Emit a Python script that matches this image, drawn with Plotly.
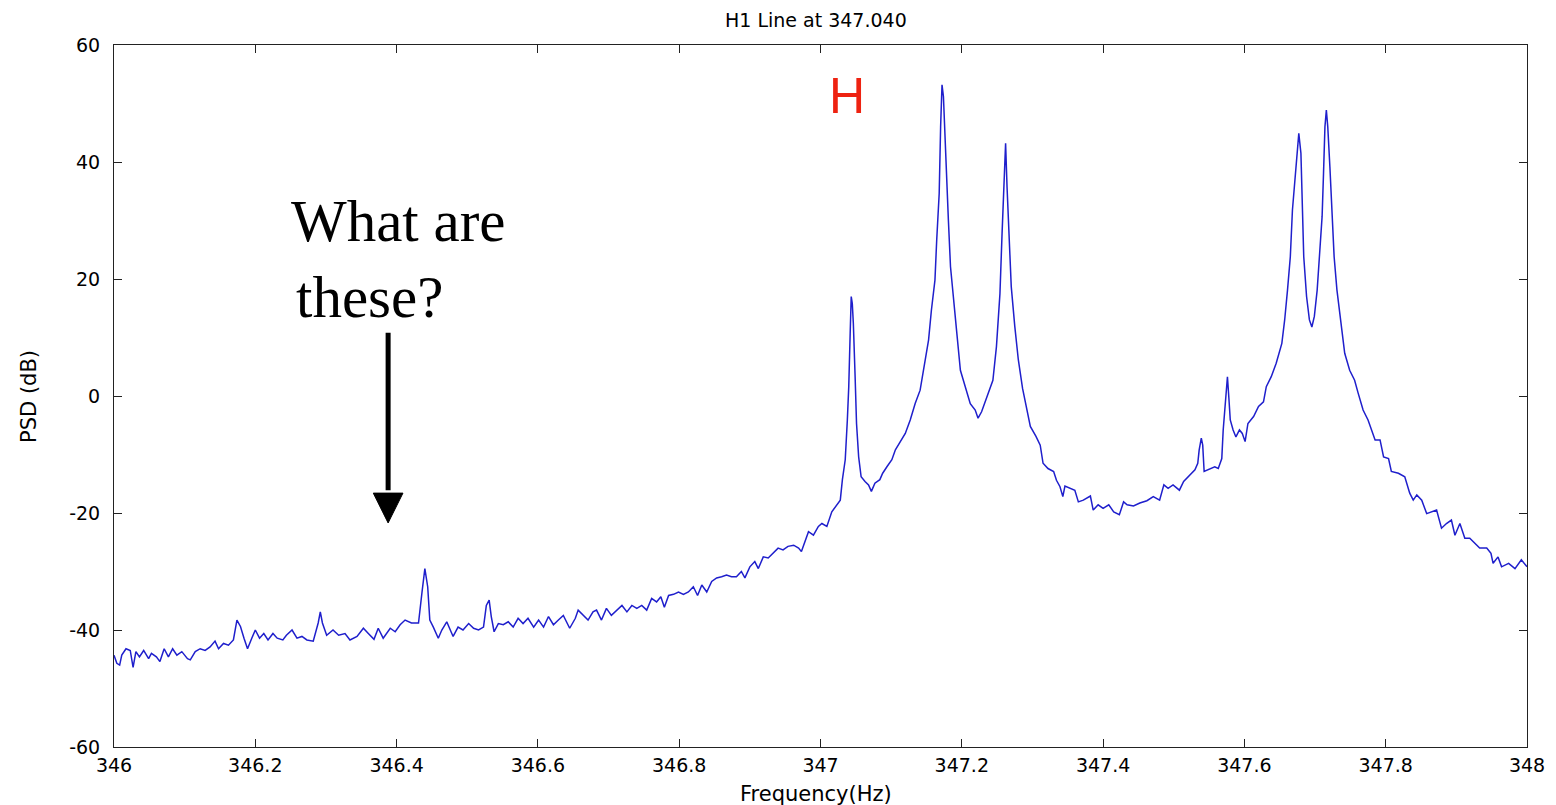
import plotly.graph_objects as go

# ---- data (frequency in Hz, PSD in dB) ----
FREQ_HZ = [
    346.000, 346.004, 346.008, 346.011, 346.017, 346.023, 346.027, 346.031, 346.036, 346.042,
    346.049, 346.053, 346.060, 346.065, 346.071, 346.077, 346.083, 346.089, 346.096, 346.104,
    346.108, 346.115, 346.122, 346.129, 346.136, 346.143, 346.148, 346.155, 346.162, 346.169,
    346.174, 346.179, 346.184, 346.189, 346.195, 346.200, 346.206, 346.212, 346.218, 346.225,
    346.231, 346.239, 346.244, 346.252, 346.259, 346.266, 346.273, 346.282, 346.289, 346.292,
    346.295, 346.301, 346.310, 346.318, 346.327, 346.334, 346.344, 346.353, 346.360, 346.368,
    346.374, 346.381, 346.391, 346.398, 346.405, 346.412, 346.421, 346.431, 346.436,
    346.440, 346.444, 346.447, 346.452, 346.459, 346.464, 346.471, 346.476, 346.480, 346.487,
    346.494, 346.502, 346.509, 346.516, 346.523, 346.527, 346.531, 346.534, 346.538, 346.544,
    346.551, 346.558, 346.565, 346.572, 346.579, 346.586, 346.594, 346.601, 346.608, 346.615,
    346.622, 346.629, 346.636, 346.645, 346.653, 346.657, 346.664, 346.671, 346.678, 346.683,
    346.690, 346.697, 346.704, 346.712, 346.719, 346.726, 346.733, 346.740, 346.747, 346.754,
    346.761, 346.768, 346.774, 346.779, 346.785, 346.792, 346.799, 346.806, 346.813, 346.820,
    346.826, 346.832, 346.839, 346.846, 346.853, 346.860, 346.867, 346.874, 346.881, 346.888,
    346.893, 346.900, 346.907, 346.912, 346.919, 346.926, 346.933, 346.940, 346.947, 346.954,
    346.962, 346.969, 346.973, 346.983, 346.990,
    346.997, 347.002, 347.009, 347.016, 347.023, 347.028, 347.031, 347.035, 347.038, 347.040,
    347.042, 347.0435, 347.045, 347.0465, 347.049, 347.051, 347.054, 347.0575, 347.063, 347.068,
    347.072, 347.077, 347.084, 347.088, 347.094, 347.101, 347.106, 347.113, 347.120, 347.127,
    347.134, 347.141, 347.147, 347.153, 347.157, 347.162,
    347.1645, 347.168, 347.170, 347.172, 347.174, 347.176, 347.178, 347.181, 347.184, 347.188,
    347.193, 347.198, 347.206, 347.212, 347.219, 347.223, 347.228, 347.234, 347.240, 347.244,
    347.249, 347.254, 347.257, 347.260, 347.262, 347.264, 347.267, 347.270, 347.275, 347.280,
    347.286, 347.292, 347.297, 347.305,
    347.311, 347.315, 347.322, 347.330, 347.334, 347.339, 347.343, 347.346, 347.353, 347.360,
    347.365, 347.372, 347.382, 347.386, 347.393, 347.400, 347.408, 347.415, 347.423, 347.429,
    347.434, 347.443, 347.452, 347.462, 347.471, 347.480, 347.486, 347.492, 347.499, 347.508,
    347.514, 347.523, 347.530, 347.534, 347.536, 347.539, 347.541, 347.543, 347.551, 347.558,
    347.563, 347.568, 347.570, 347.573,
    347.576, 347.578, 347.580, 347.584, 347.588, 347.593, 347.597, 347.601, 347.605, 347.613,
    347.620, 347.627, 347.631, 347.638, 347.645, 347.653, 347.657, 347.661, 347.665, 347.668,
    347.672, 347.675, 347.677, 347.680, 347.682, 347.684, 347.688, 347.692, 347.6955, 347.699,
    347.703, 347.706, 347.710, 347.712, 347.714, 347.716, 347.718, 347.721, 347.724, 347.727,
    347.731, 347.736, 347.742, 347.749, 347.756, 347.761, 347.768, 347.775, 347.782,
    347.785, 347.792, 347.797, 347.804, 347.808, 347.818, 347.827, 347.834, 347.839, 347.844,
    347.851, 347.858, 347.865, 347.872, 347.879, 347.886, 347.893, 347.898, 347.905, 347.912,
    347.919, 347.926, 347.933, 347.943, 347.949, 347.952, 347.959, 347.964, 347.974, 347.983,
    347.992, 348.000,
]

PSD_DB = [
    -44.3, -45.7, -46.0, -44.3, -43.2, -43.5, -46.4, -43.7, -44.6, -43.5,
    -44.9, -44.0, -44.6, -45.4, -43.2, -44.6, -43.2, -44.3, -43.7, -44.9,
    -45.1, -43.7, -43.2, -43.5, -42.9, -41.9, -43.2, -42.3, -42.6, -41.7,
    -38.3, -39.4, -41.4, -43.2, -41.4, -40.0, -41.4, -40.6, -41.7, -40.6,
    -41.4, -41.7, -40.9, -40.0, -41.4, -41.1, -41.7, -41.9, -38.8, -36.9,
    -38.8, -40.9, -40.0, -40.9, -40.6, -41.7, -41.1, -39.7, -40.6, -41.6,
    -39.7, -41.4, -39.7, -40.3, -39.1, -38.3, -38.8, -38.8, -33.5,
    -29.5, -32.6, -38.3, -39.5, -41.4, -40.0, -38.6, -40.0, -41.1, -39.5,
    -40.0, -38.9, -39.7, -40.0, -39.5, -35.8, -34.9, -37.7, -40.3, -38.9,
    -39.1, -38.6, -39.5, -38.0, -38.9, -38.0, -39.5, -38.3, -39.5, -37.7,
    -39.1, -38.3, -37.5, -39.7, -38.0, -36.6, -37.5, -38.3, -36.9, -36.6,
    -38.3, -36.3, -37.5, -36.6, -35.8, -36.9, -35.8, -36.3, -35.8, -36.6,
    -34.6, -35.2, -34.3, -36.1, -34.1, -33.9, -33.5, -33.9, -33.5, -32.6,
    -34.1, -32.3, -33.5, -31.7, -31.1, -30.9, -30.6, -30.9, -30.9, -30.0,
    -31.1, -29.2, -28.3, -29.5, -27.5, -27.7, -26.9, -26.0, -26.3, -25.7,
    -25.5, -26.0, -26.6, -23.2, -23.8,
    -22.3, -21.8, -22.3, -19.8, -18.6, -17.8, -14.3, -10.9, -4.1, 1.6,
    10.7, 17.0, 15.8, 12.4, 3.3, -4.7, -10.4, -13.8, -14.6, -15.2,
    -16.3, -14.9, -14.3, -13.2, -12.1, -10.9, -9.2, -7.8, -6.4, -4.1,
    -1.3, 1.0, 5.0, 9.6, 14.7, 19.8,
    26.7, 34.6, 46.0, 53.2, 51.2, 44.9, 36.9, 30.1, 22.1, 16.4,
    10.7, 4.4, 1.0, -1.3, -2.4, -3.8, -2.7, -0.7, 1.6, 2.7,
    8.4, 17.5, 27.8, 36.9, 43.2, 35.8, 27.8, 18.7, 11.9, 6.2,
    1.3, -2.4, -5.2, -6.9,
    -8.4, -11.5, -12.4, -12.9, -14.4, -15.5, -17.2, -15.4, -15.8, -16.1,
    -18.1, -17.8, -17.1, -19.5, -18.6, -19.2, -18.6, -19.8, -20.3, -18.1,
    -18.6, -18.8, -18.3, -17.9, -17.2, -17.8, -15.2, -15.8, -15.2, -16.1,
    -14.6, -13.5, -12.6, -11.5, -9.2, -7.2, -8.4, -12.9, -12.4, -12.1,
    -12.4, -10.7, -5.8, -0.7,
    3.3, -0.3, -4.1, -5.8, -7.0, -5.8, -6.4, -7.8, -4.7, -3.5,
    -1.8, -1.0, 1.6, 3.3, 5.6, 9.0, 13.0, 18.1, 23.8, 31.8,
    38.1, 43.2, 44.9, 41.5, 33.5, 23.8, 17.0, 13.0, 11.8, 13.6,
    18.1, 23.8, 30.7, 38.1, 46.0, 48.9, 46.0, 39.2, 30.7, 23.8,
    18.1, 13.0, 7.3, 4.4, 2.7, 0.5, -2.4, -4.1, -6.4,
    -7.5, -7.5, -10.4, -10.7, -12.9, -13.2, -13.8, -16.6, -17.8, -16.9,
    -17.8, -20.1, -19.8, -19.5, -22.6, -21.8, -21.2, -23.8, -21.8, -24.3,
    -24.3, -25.2, -26.0, -26.0, -26.9, -28.6, -27.5, -29.2, -28.6, -29.5,
    -28.0, -29.2,
]

X_TICKS = [346, 346.2, 346.4, 346.6, 346.8, 347, 347.2, 347.4, 347.6, 347.8, 348]
X_TICK_LABELS = ["346", "346.2", "346.4", "346.6", "346.8", "347",
                 "347.2", "347.4", "347.6", "347.8", "348"]
Y_TICKS = [-60, -40, -20, 0, 20, 40, 60]
Y_TICK_LABELS = ["-60", "-40", "-20", "0", "20", "40", "60"]

TITLE = "H1 Line at 347.040"
X_LABEL = "Frequency(Hz)"
Y_LABEL = "PSD (dB)"

# annotation positions (data units)
H_POS = (347.038, 51.2)
Q_LINE1_POS = (346.402, 29.9)
Q_LINE2_POS = (346.362, 17.0)
ARROW_X = 346.388
ARROW_TOP = 10.8
ARROW_HEAD_TOP = -16.6
ARROW_TIP = -21.7
ARROW_HALF_W = 0.021

fig = go.Figure()
fig.add_trace(go.Scatter(
    x=FREQ_HZ, y=PSD_DB, mode="lines",
    line=dict(color="#1f1fcc", width=1.5),
    hoverinfo="skip", showlegend=False,
))

tick_font = dict(family="DejaVu Sans", size=19, color="black")
axis_common = dict(
    showline=True, linecolor="#222222", linewidth=1, mirror="ticks",
    ticks="inside", ticklen=8, tickwidth=1, tickcolor="#222222",
    showgrid=False, zeroline=False, tickfont=tick_font,
)

fig.update_layout(
    width=1556, height=805,
    margin=dict(l=114, r=29, t=45, b=58),
    paper_bgcolor="white", plot_bgcolor="white",
    xaxis=dict(range=[346, 348], tickmode="array", tickvals=X_TICKS,
               ticktext=X_TICK_LABELS, ticklabelstandoff=1, **axis_common),
    yaxis=dict(range=[-60, 60], tickmode="array", tickvals=Y_TICKS,
               ticktext=Y_TICK_LABELS, ticklabelstandoff=9, **axis_common),
    showlegend=False,
)

annotations = [
    dict(text=TITLE, xref="paper", yref="paper", x=0.497, y=1.0356,
         xanchor="center", yanchor="middle", showarrow=False,
         font=dict(family="DejaVu Sans", size=19, color="black")),
    dict(text=X_LABEL, xref="paper", yref="paper", x=0.497, y=-0.067,
         xanchor="center", yanchor="middle", showarrow=False,
         font=dict(family="DejaVu Sans", size=21, color="black")),
    dict(text=Y_LABEL, xref="paper", yref="paper", x=-0.0602, y=0.5,
         xanchor="center", yanchor="middle", showarrow=False, textangle=-90,
         font=dict(family="DejaVu Sans", size=21, color="black")),
    dict(text="H", xref="x", yref="y", x=H_POS[0], y=H_POS[1],
         xanchor="center", yanchor="middle", showarrow=False,
         font=dict(family="Liberation Sans", size=50, color="#ee2211")),
    dict(text="What are", xref="x", yref="y", x=Q_LINE1_POS[0], y=Q_LINE1_POS[1],
         xanchor="center", yanchor="middle", showarrow=False,
         font=dict(family="Liberation Serif", size=59, color="black")),
    dict(text="these?", xref="x", yref="y", x=Q_LINE2_POS[0], y=Q_LINE2_POS[1],
         xanchor="center", yanchor="middle", showarrow=False,
         font=dict(family="Liberation Serif", size=59, color="black")),
]
fig.update_layout(annotations=annotations)

fig.add_shape(type="line", xref="x", yref="y",
              x0=ARROW_X, x1=ARROW_X, y0=ARROW_TOP, y1=ARROW_HEAD_TOP + 0.5,
              line=dict(color="black", width=5))
fig.add_shape(type="path", xref="x", yref="y",
              path=(f"M {ARROW_X - ARROW_HALF_W},{ARROW_HEAD_TOP} "
                    f"L {ARROW_X + ARROW_HALF_W},{ARROW_HEAD_TOP} "
                    f"L {ARROW_X},{ARROW_TIP} Z"),
              fillcolor="black", line=dict(color="black", width=1))

fig.write_html("out.html")
